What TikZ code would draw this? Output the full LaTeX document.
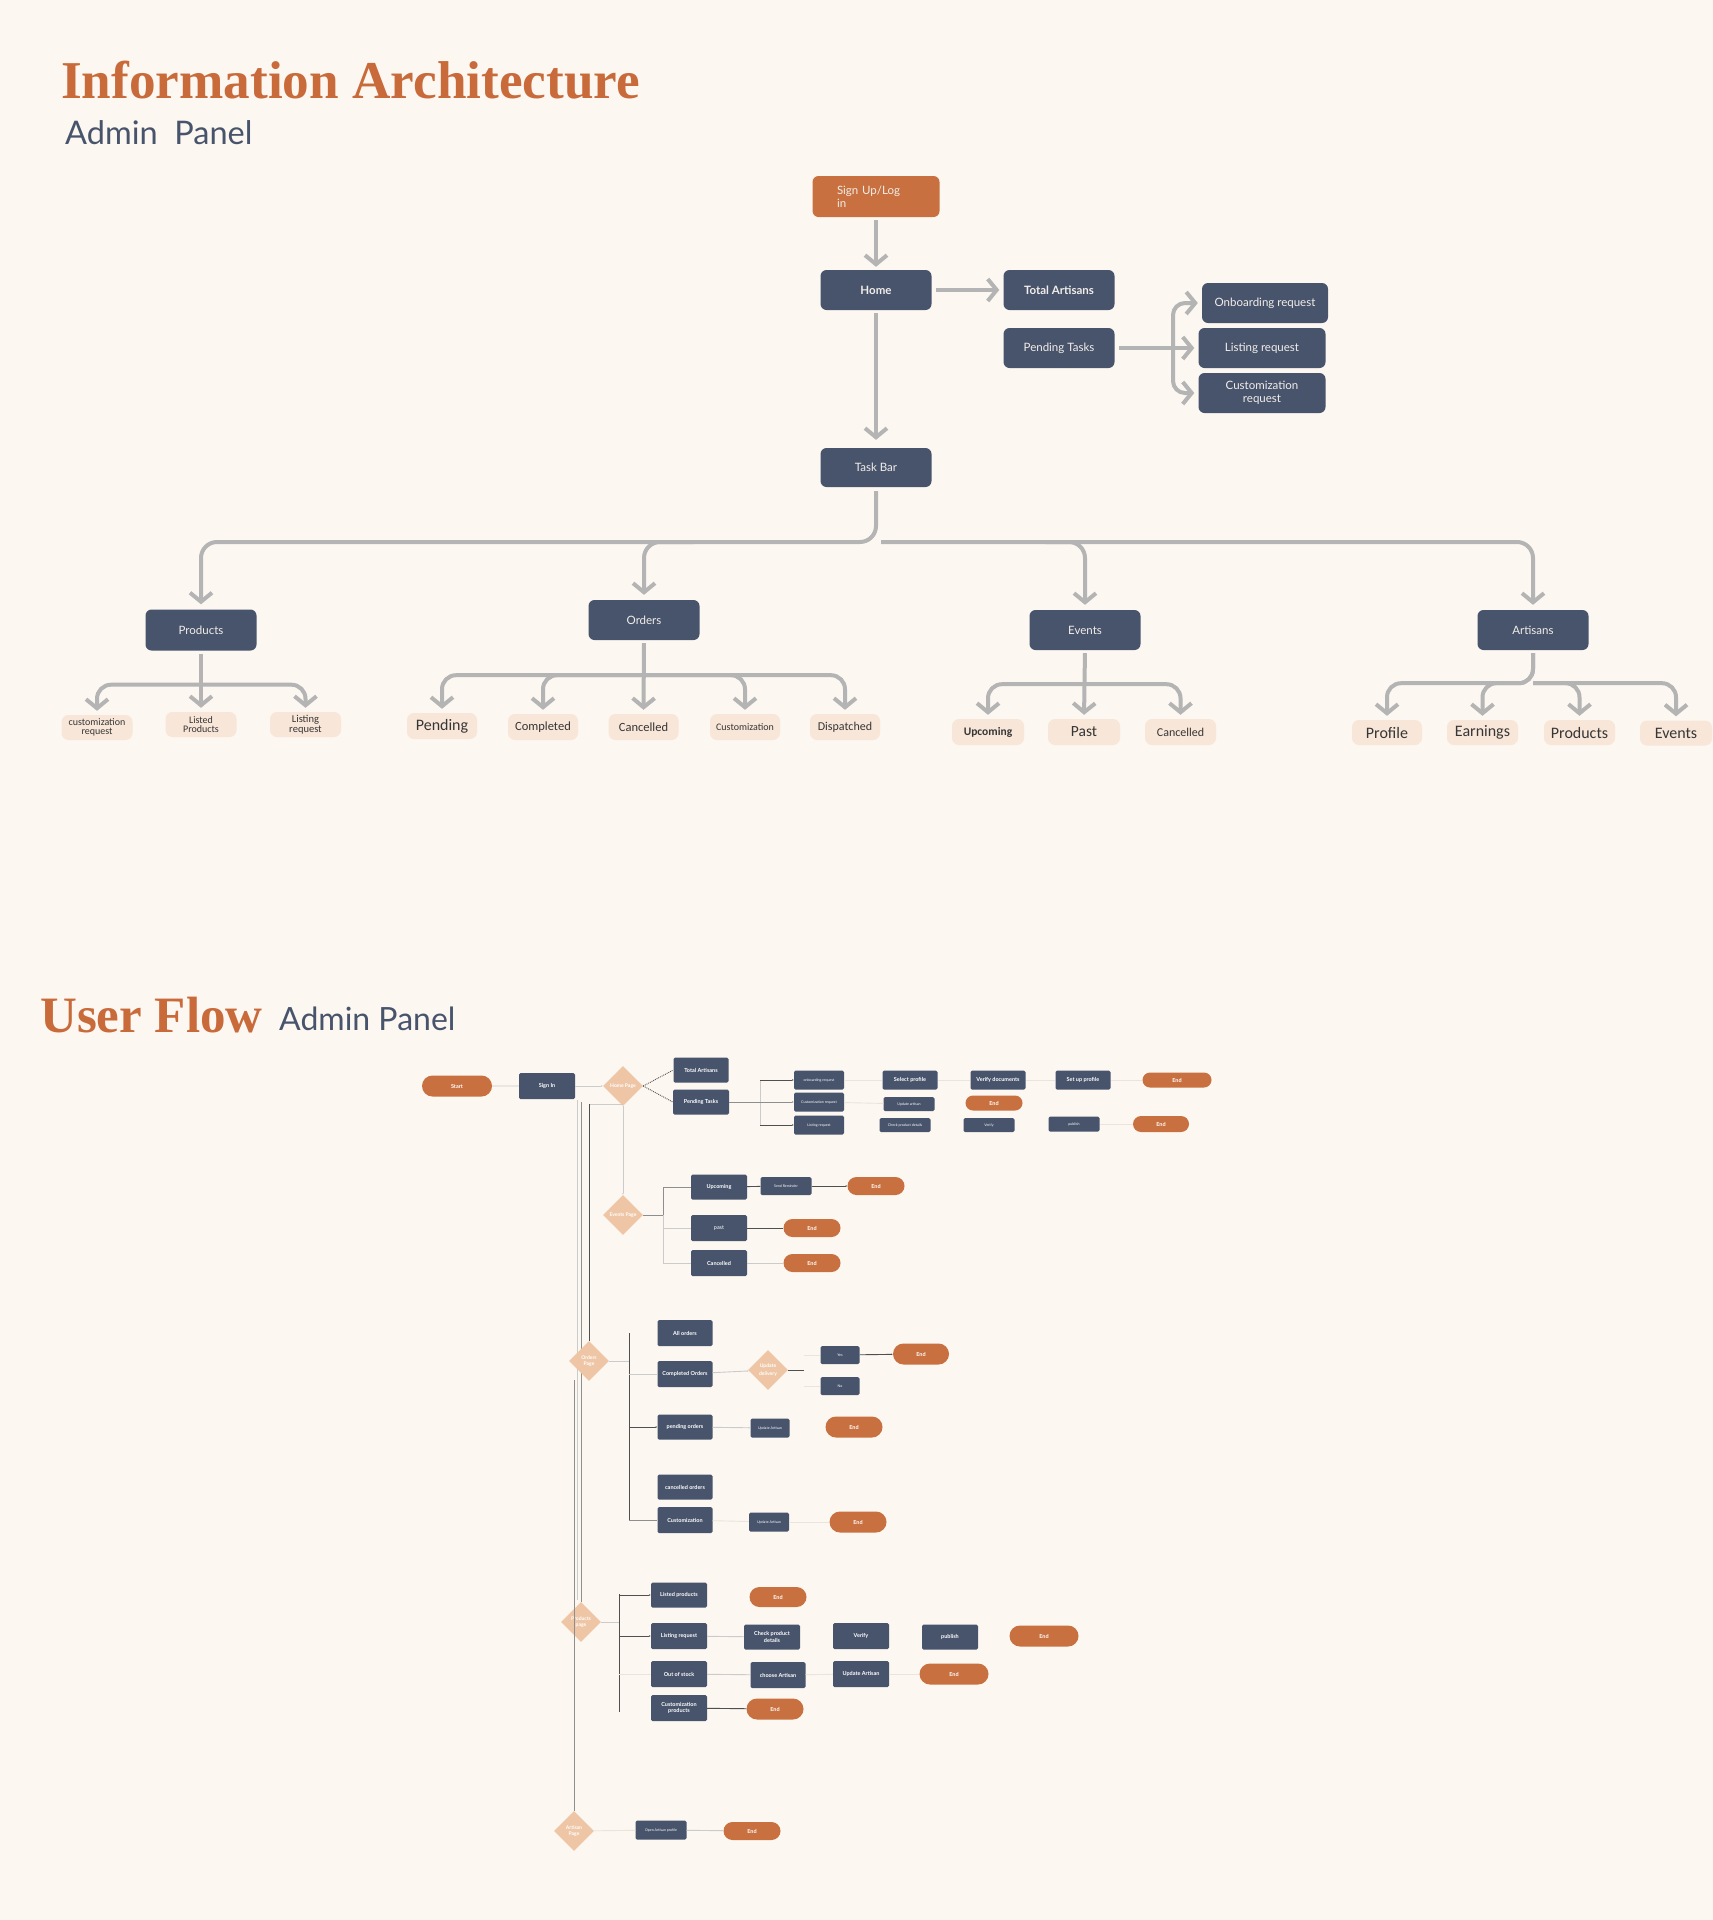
\documentclass[tikz,border=0pt]{standalone}
\usepackage{fontspec}
\usetikzlibrary{arrows.meta,shapes.geometric,shapes.misc,calc}
\newfontfamily\lato{Lato}
\newfontfamily\carl{Carlito}
\newfontfamily\ttl{Liberation Serif}
\definecolor{bg}{HTML}{FCF7F1}
\definecolor{orng}{HTML}{C8703F}
\definecolor{titleo}{HTML}{C96A3A}
\definecolor{navy}{HTML}{48546C}
\definecolor{leaf}{HTML}{F8E6D8}
\definecolor{dia}{HTML}{EEC6A6}
\definecolor{arr}{HTML}{B4B4B4}
\definecolor{ntext}{HTML}{F2EEE9}
\definecolor{ltext}{HTML}{363636}
\definecolor{cfaint}{HTML}{EBE4DC}
\definecolor{clight}{HTML}{CBCBCB}
\definecolor{cmid}{HTML}{8E8E8E}
\definecolor{cdark}{HTML}{4F4F4F}
\begin{document}
\begin{tikzpicture}[x=1pt,y=-1pt,
  nav/.style={fill=navy, rounded corners=6pt, text=ntext, inner sep=0, align=center,
    minimum width=111pt, minimum height=40pt, font=\lato\fontsize{11.5}{13}\selectfont},
  navbold/.style={nav, font=\lato\bfseries\fontsize{11.5}{13}\selectfont},
  leafbox/.style={fill=leaf, rounded corners=7pt, text=ltext, inner sep=0, align=center,
    minimum width=71pt, minimum height=25pt},
  lf/.style={font=\carl\fontsize{#1}{#1}\selectfont},
  lfb/.style={font=\carl\bfseries\fontsize{#1}{#1}\selectfont},
  ia/.style={draw=arr, line width=4pt, -{Straight Barb[length=9pt,width=22pt]}},
  wh/.style 2 args={minimum width=#1pt, minimum height=#2pt},
  ufb/.style={fill=navy, rounded corners=1.5pt, text=white, inner sep=0, align=center,
    font=\lato\bfseries\fontsize{5.5}{6.5}\selectfont},
  ufs/.style={ufb, font=\lato\fontsize{3.6}{4.3}\selectfont},
  ufe/.style={rounded rectangle, fill=orng, text=white, inner sep=0,
    font=\lato\bfseries\fontsize{5.5}{6}\selectfont},
  ufd/.style={diamond, fill=dia, minimum width=40pt, minimum height=40pt, inner sep=0,
    text=white, align=center, font=\lato\bfseries\fontsize{5}{6}\selectfont},
  lnf/.style={draw=cfaint, line width=0.9pt},
  lnl/.style={draw=clight, line width=0.9pt},
  lnm/.style={draw=cmid, line width=0.9pt},
  lnd/.style={draw=cdark, line width=0.9pt},
  tip/.style={-{Latex[length=1.6pt,width=1.6pt]}}
]
\useasboundingbox (0,0) rectangle (1713,1920);
\fill[bg] (0,0) rectangle (1713,1920);

% ---------- titles ----------
\node[anchor=base west, inner sep=0, text=titleo, font=\ttl\bfseries\fontsize{53.2}{53}\selectfont] (t1) at (61,98) {Information Architecture};
\node[anchor=base west, inner sep=0, text=navy, font=\lato\fontsize{32.5}{32}\selectfont] (t2) at (65,144) {Admin\ \ Panel};
\node[anchor=base west, inner sep=0, text=titleo, font=\ttl\bfseries\fontsize{51}{51}\selectfont] (t3) at (40,1032) {User Flow};
\node[anchor=base west, inner sep=0, text=navy, font=\lato\fontsize{32}{32}\selectfont] (t4) at (279,1030) {Admin Panel};

% ---------- Information architecture ----------
\node[nav, fill=orng, minimum width=127pt, minimum height=41pt, text width=78pt, align=left] (su) at (876,196.5) {Sign Up/Log\\in};
\node[navbold] (hm) at (876,290) {Home};
\node[navbold] (ta) at (1059,290) {Total Artisans};
\node[nav] (pt) at (1059,348) {Pending Tasks};
\node[nav, minimum width=126pt] (ob) at (1265,303) {Onboarding request};
\node[nav, minimum width=127pt] (lr) at (1262,348) {Listing request};
\node[nav, minimum width=127pt] (cr) at (1262,393) {Customization\\request};
\node[nav, minimum height=39pt] (tb) at (876,467.5) {Task Bar};
\node[nav, minimum height=41pt] (prod) at (201,630) {Products};
\node[nav] (ord) at (644,620) {Orders};
\node[nav] (ev) at (1085,630) {Events};
\node[nav] (art) at (1533,630) {Artisans};

\draw[ia, shorten <=3pt, shorten >=3pt] (su) -- (hm);
\draw[ia, shorten <=4pt, shorten >=4pt] (hm) -- (ta);
\draw[ia, shorten <=3pt, shorten >=8pt] (hm.south) -- (tb.north);
\draw[ia, shorten <=4pt, shorten >=4pt] (pt) -- (lr);
\coordinate (bx) at (1173,348);
\draw[ia, rounded corners=12pt, shorten >=4pt] (bx) |- (ob.west);
\draw[ia, rounded corners=12pt, shorten >=4pt] (bx) |- (cr.west);

\coordinate (hb) at (877,542);
\draw[ia, rounded corners=16pt, shorten <=4pt, shorten >=5pt] (tb.south) |- (hb -| prod.north) -- (prod.north);
\draw[ia, rounded corners=16pt, shorten >=5pt] ($(hb -| ord.north)+(50,0)$) -- (hb -| ord.north) -- (ord.north);
\draw[ia, rounded corners=16pt, shorten >=5pt] ($(hb -| ev.north)+(-40,0)$) -- (hb -| ev.north) -- (ev.north);
\draw[ia, rounded corners=16pt, shorten >=5pt] (881,542) -- (hb -| art.north) -- (art.north);

% leaves
\node[leafbox, lf=10] (l11) at (97,727.5) {customization\\[-1pt]request};
\node[leafbox, lf=10] (l12) at (201,724.5) {Listed\\[-1pt]Products};
\node[leafbox, lf=10.5] (l13) at (305.5,724.5) {Listing\\[-1pt]request};
\node[leafbox, wh={70}{26}, lf=16] (o1) at (442,726) {Pending};
\node[leafbox, wh={70}{26}, lf=12.5] (o2) at (543,727) {Completed};
\node[leafbox, wh={70}{26}, lf=12.5] (o3) at (643.5,727) {Cancelled};
\node[leafbox, wh={70}{26}, lf=10] (o4) at (745,727) {Customization};
\node[leafbox, wh={70}{26}, lf=12] (o5) at (845,727) {Dispatched};
\node[leafbox, wh={72}{26}, lfb=11.5] (e1) at (988,732) {Upcoming};
\node[leafbox, wh={72}{26}, lf=15.5] (e2) at (1084,732) {Past};
\node[leafbox, wh={71}{26}, lf=12] (e3) at (1180.5,732) {Cancelled};
\node[leafbox, wh={70}{25}, lf=16] (a1) at (1387,732.5) {Profile};
\node[leafbox, wh={71}{25}, lf=16] (a2) at (1482.5,732.5) {Earnings};
\node[leafbox, wh={71}{25}, lf=16] (a3) at (1579.5,732.5) {Products};
\node[leafbox, wh={72}{25}, lf=16] (a4) at (1676,733) {Events};

% leaf connectors
\coordinate (pb) at ($(prod.south)+(0,34)$);
\draw[ia, shorten <=3pt, shorten >=4pt] (prod.south) -- (l12.north);
\draw[ia, rounded corners=14pt, shorten >=4pt] (pb) -| (l11.north);
\draw[ia, rounded corners=14pt, shorten >=4pt] (pb) -| (l13.north);

\coordinate (ob2) at ($(ord.south)+(0,35)$);
\draw[ia, shorten <=3pt, shorten >=4pt] (ord.south) -- (o3.north);
\draw[ia, rounded corners=14pt, shorten >=4pt] (ob2) -| (o1.north);
\draw[ia, rounded corners=14pt, shorten >=4pt] (ob2) -| (o2.north);
\draw[ia, rounded corners=14pt, shorten >=4pt] (ob2) -| (o4.north);
\draw[ia, rounded corners=14pt, shorten >=4pt] (ob2) -| (o5.north);

\coordinate (eb) at ($(ev.south)+(0,34)$);
\draw[ia, shorten <=3pt, shorten >=4pt] (ev.south) -- (e2.north);
\draw[ia, rounded corners=14pt, shorten >=4pt] (eb) -| (e1.north);
\draw[ia, rounded corners=14pt, shorten >=4pt] (eb) -| (e3.north);

\coordinate (ab) at ($(art.south)+(0,33)$);
\draw[ia, rounded corners=14pt, shorten <=3pt, shorten >=4pt] (art.south) -- (ab) -| (a1.north);
\draw[ia, rounded corners=14pt, shorten <=3pt, shorten >=4pt] (art.south) -- (ab) -| (a2.north);
\draw[ia, rounded corners=14pt, shorten >=4pt] (ab) -| (a3.north);
\draw[ia, rounded corners=14pt, shorten >=4pt] (ab) -| (a4.north);

% ---------- User flow ----------
\node[ufe, wh={70}{21}] (start) at (457,1086) {Start};
\node[ufb, wh={56}{26}] (signin) at (547,1086) {Sign In};
\node[ufd] (homepg) at (623,1086) {\makebox[0pt]{Home Page}};
\node[ufb, wh={55}{25}] (ufta) at (701,1070) {Total Artisans};
\node[ufb, wh={56}{25}] (ufpt) at (701,1102) {Pending Tasks};
\node[ufs, wh={50}{19}] (obr) at (819,1080) {onboarding request};
\node[ufs, wh={50}{19}] (cusr) at (819,1102) {Customization request};
\node[ufs, wh={50}{19}] (lsr) at (819,1125) {Listing request};
\node[ufb, wh={55}{19}] (selp) at (910,1080) {Select profile};
\node[ufb, wh={55}{19}] (verd) at (998,1080) {Verify documents};
\node[ufb, wh={55}{19}] (setp) at (1083,1080) {Set up profile};
\node[ufe, wh={69}{15}] (end1) at (1177,1080) {End};
\node[ufs, wh={51}{14}] (upda) at (909,1104) {Update artisan};
\node[ufe, wh={57}{15}] (end2) at (994,1103) {End};
\node[ufs, wh={51}{14}] (chk) at (905,1125) {Check product details};
\node[ufs, wh={51}{14}] (ver) at (989,1125) {Verify};
\node[ufs, wh={51}{15}] (pub) at (1074,1124) {publish};
\node[ufe, wh={56}{16}] (end3) at (1161,1124) {End};

\draw[lnl] (start) -- (signin);
\draw[lnl, tip] (signin) -- (homepg);
\draw[lnd, densely dotted] (homepg.east) -- (ufta.west);
\draw[lnd, densely dotted] (homepg.east) -- (ufpt.west);
\coordinate (tb1) at (760,1102);
\draw[lnm] (ufpt.east) -- (tb1);
\draw[lnl] (tb1 |- obr.west) -- (tb1 |- lsr.west);
\draw[lnd, tip] (tb1 |- obr.west) -- (obr.west);
\draw[lnm, tip] (tb1 |- cusr.west) -- (cusr.west);
\draw[lnd, tip] (tb1 |- lsr.west) -- (lsr.west);
\draw[lnf] (obr) -- (selp);
\draw[lnf] (selp) -- (verd);
\draw[lnf] (verd) -- (setp);
\draw[lnf] (setp) -- (end1);
\draw[lnf] (cusr) -- (upda);
\draw[lnf] (pub) -- (end3);

% events
\node[ufd] (evpg) at (623,1215) {\makebox[0pt]{Events Page}};
\node[ufb, wh={56}{25}] (upc) at (719,1187) {Upcoming};
\node[ufs, wh={51}{18}] (send) at (786,1186) {Send Reminder};
\node[ufe, wh={57}{18}] (end4) at (876,1186) {End};
\node[ufb, wh={56}{26}, font=\lato\fontsize{5.5}{6.5}\selectfont] (past) at (719,1228) {past};
\node[ufe, wh={57}{18}] (end5) at (812,1228) {End};
\node[ufb, wh={56}{26}] (canc) at (719,1263) {Cancelled};
\node[ufe, wh={57}{18}] (end6) at (812,1263) {End};

\draw[lnl, tip] (homepg.south) -- (evpg.north);
\coordinate (ev1) at (663,1215);
\draw[lnm] (evpg.east) -- (ev1);
\draw[lnm] (ev1 |- upc.west) -- (ev1);
\draw[lnl] (ev1) -- (ev1 |- canc.west);
\draw[lnm] (ev1 |- upc.west) -- (upc.west);
\draw[lnl] (ev1 |- past.west) -- (past.west);
\draw[lnl] (ev1 |- canc.west) -- (canc.west);
\draw[lnd] (upc) -- (send);
\draw[lnd, tip] (send) -- (end4);
\draw[lnd] (past) -- (end5);
\draw[lnl] (canc) -- (end6);

% left trunk lines
\draw[lnl] (577,1100) -- (577,1600);
\draw[lnl] (589,1104) -- (homepg.south |- 0,1104);
\draw[lnm] (581,1102) -- (581,1480);
\draw[lnd] (589,1104) -- (589,1341);

% orders
\node[ufd] (ordpg) at (589,1361) {\makebox[0pt]{\shortstack{Orders\\Page}}};
\node[ufb, wh={55}{26}] (allo) at (685,1333) {All orders};
\node[ufb, wh={55}{26}] (como) at (685,1374) {Completed Orders};
\node[ufd] (upddel) at (768,1370) {\makebox[0pt]{\shortstack{Update\\delivery}}};
\node[ufs, wh={39}{18}] (yes) at (840,1355) {Yes};
\node[ufs, wh={39}{18}] (no) at (840,1386) {No};
\node[ufe, wh={56}{21}] (end7) at (921,1354) {End};
\node[ufb, wh={55}{25}] (pendo) at (685,1427) {pending orders};
\node[ufs, wh={39}{19}] (updart1) at (770,1428) {Update Artisan};
\node[ufe, wh={57}{21}] (end8) at (854,1427) {End};
\node[ufb, wh={55}{25}] (canco) at (685,1487) {cancelled orders};
\node[ufb, wh={55}{26}] (custo) at (685,1520) {Customization};
\node[ufs, wh={40}{19}] (updart2) at (769,1522) {Update Artisan};
\node[ufe, wh={57}{21}] (end9) at (858,1522) {End};

\coordinate (or1) at (629,1361);
\draw[lnl] (ordpg.east) -- (or1);
\draw[lnd] (629,1333) -- (629,1521);
\draw[lnl] (or1 |- como.west) -- (como.west);
\draw[lnd, tip] (or1 |- pendo.west) -- (pendo.west);
\draw[lnm] (or1 |- custo.west) -- (custo.west);
\draw[lnl, tip] (como) -- (upddel);
\coordinate (or2) at (804,1370);
\draw[lnd] (upddel.east) -- (or2);
\draw[lnf] (or2 |- yes.west) -- (yes.west);
\draw[lnf] (or2 |- no.west) -- (no.west);
\draw[lnd, tip] (yes) -- (end7);
\draw[lnl, tip] (pendo) -- (updart1);
\draw[lnf] (custo) -- (updart2);
\draw[lnf] (updart2) -- (end9);

% products
\node[ufd] (prodpg) at (581,1622) {\makebox[0pt]{\shortstack{Products\\page}}};
\node[ufb, wh={56}{25}] (listp) at (679,1595) {Listed products};
\node[ufe, wh={57}{20}] (end10) at (778,1597) {End};
\node[ufb, wh={56}{26}] (listr) at (679,1636) {Listing request};
\node[ufb, wh={56}{25}] (chkd) at (772,1637) {Check product\\details};
\node[ufb, wh={56}{26}] (verif) at (861,1636) {Verify};
\node[ufb, wh={56}{25}] (publ) at (950,1637) {publish};
\node[ufe, wh={69}{21}] (end11) at (1044,1636) {End};
\node[ufb, wh={56}{26}] (oos) at (679,1674) {Out of stock};
\node[ufb, wh={55}{26}] (choose) at (778,1675) {choose Artisan};
\node[ufb, wh={56}{26}] (upart3) at (861,1674) {Update Artisan};
\node[ufe, wh={69}{21}] (end12) at (954,1674) {End};
\node[ufb, wh={56}{26}] (custp) at (679,1708) {Customization\\products};
\node[ufe, wh={57}{21}] (end13) at (775,1709) {End};

\draw[lnm] (581,1480) -- (prodpg.north);
\coordinate (pr1) at (619,1622);
\draw[lnl] (prodpg.east) -- (pr1);
\draw[lnd] (619,1594) -- (619,1712);
\draw[lnd, tip] (pr1 |- listp.west) -- (listp.west);
\draw[lnd, tip] (pr1 |- listr.west) -- (listr.west);
\draw[lnf] (pr1 |- oos.west) -- (oos.west);
\draw[lnl] (listr) -- (chkd);
\draw[lnl] (oos) -- (choose);
\draw[lnf] (choose) -- (upart3);
\draw[lnf] (upart3) -- (end12);
\draw[lnd] (custp) -- (end13);

% artisan
\node[ufd] (artpg) at (574,1831) {\makebox[0pt]{\shortstack{Artisan\\Page}}};
\node[ufs, wh={51}{19}] (opn) at (661,1830) {Open Artisan profile};
\node[ufe, wh={57}{18}] (end14) at (752,1831) {End};
\draw[lnm] (574,1380) -- (artpg.north);
\draw[lnf] (artpg) -- (opn);
\draw[lnl, tip] (opn) -- (end14);
\end{tikzpicture}
\end{document}
